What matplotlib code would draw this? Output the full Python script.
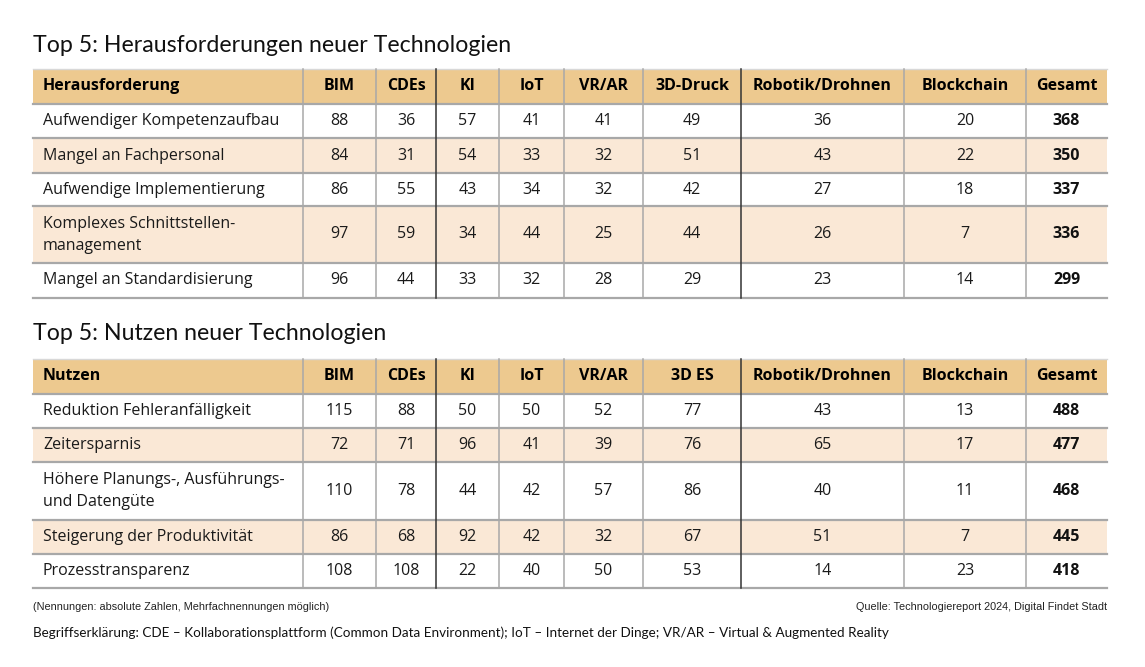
import matplotlib.pyplot as plt
from matplotlib.patches import Rectangle

# --- data ---------------------------------------------------------------
tech_cols_1 = ["BIM", "CDEs", "KI", "IoT", "VR/AR", "3D-Druck",
               "Robotik/Drohnen", "Blockchain", "Gesamt"]
tech_cols_2 = ["BIM", "CDEs", "KI", "IoT", "VR/AR", "3D ES",
               "Robotik/Drohnen", "Blockchain", "Gesamt"]

challenges = ["Aufwendiger Kompetenzaufbau", "Mangel an Fachpersonal",
              "Aufwendige Implementierung",
              "Komplexes Schnittstellen-\nmanagement",
              "Mangel an Standardisierung"]
challenge_values = [
    [88, 36, 57, 41, 41, 49, 36, 20, 368],
    [84, 31, 54, 33, 32, 51, 43, 22, 350],
    [86, 55, 43, 34, 32, 42, 27, 18, 337],
    [97, 59, 34, 44, 25, 44, 26, 7, 336],
    [96, 44, 33, 32, 28, 29, 23, 14, 299],
]

benefits = ["Reduktion Fehleranfälligkeit", "Zeitersparnis",
            "Höhere Planungs-, Ausführungs-\nund Datengüte",
            "Steigerung der Produktivität", "Prozesstransparenz"]
benefit_values = [
    [115, 88, 50, 50, 52, 77, 43, 13, 488],
    [72, 71, 96, 41, 39, 76, 65, 17, 477],
    [110, 78, 44, 42, 57, 86, 40, 11, 468],
    [86, 68, 92, 42, 32, 67, 51, 7, 445],
    [108, 108, 22, 40, 50, 53, 14, 23, 418],
]

# --- layout (pixel coordinates) -------------------------------------------
W, H = 1145, 667
col_edges = [33, 303, 376, 436, 499, 564, 643, 741, 904, 1026, 1107]
dark_lines = {3, 7}
HEADER = "#EDC98F"
ALT = "#FAE8D6"
GRID = "#A8A8A8"
BODY_FONT = "Open Sans"
TITLE_FONT = "Lato"

fig = plt.figure(figsize=(W / 100, H / 100), dpi=100)
ax = fig.add_axes([0, 0, 1, 1])
ax.set_xlim(0, W)
ax.set_ylim(H, 0)
ax.axis("off")


def draw_table(title, title_y, first_col, cols, rows, values, top, row_heights):
    ax.text(col_edges[0], title_y, title, fontsize=16.7, family=TITLE_FONT,
            va="center", ha="left", color="#111111")
    header_h = 35
    ax.add_patch(Rectangle((col_edges[0], top), col_edges[-1] - col_edges[0],
                           header_h, facecolor=HEADER, edgecolor="none"))
    ax.text(col_edges[0] + 10, top + header_h / 2, first_col, fontsize=11.5,
            fontweight="bold", family=BODY_FONT, va="center", ha="left")
    for j, c in enumerate(cols):
        cx = (col_edges[j + 1] + col_edges[j + 2]) / 2
        ax.text(cx, top + header_h / 2, c, fontsize=11.5, fontweight="bold",
                family=BODY_FONT, va="center", ha="center")

    y = top + header_h
    ax.plot([col_edges[0], col_edges[-1]], [top, top], color="#D8D8D8", lw=1)
    ax.plot([col_edges[0], col_edges[-1]], [y, y], color=GRID, lw=1.6)
    for i, (label, vals) in enumerate(zip(rows, values)):
        h = row_heights[i]
        if i % 2 == 1:
            ax.add_patch(Rectangle((col_edges[0], y), col_edges[-1] - col_edges[0],
                                   h, facecolor=ALT, edgecolor="none"))
        ax.text(col_edges[0] + 10, y + h / 2, label, fontsize=11.5,
                family=BODY_FONT, va="center", ha="left", color="#1a1a1a",
                linespacing=1.5)
        for j, v in enumerate(vals):
            cx = (col_edges[j + 1] + col_edges[j + 2]) / 2
            bold = j == len(vals) - 1
            ax.text(cx, y + h / 2, str(v), fontsize=11.5, family=BODY_FONT,
                    fontweight="bold" if bold else "normal",
                    va="center", ha="center", color="#111111" if bold else "#1a1a1a")
        y += h
        ax.plot([col_edges[0], col_edges[-1]], [y, y], color=GRID, lw=1.6)

    for k, x in enumerate(col_edges[1:-1], start=1):
        ax.plot([x, x], [top, y], color="#333333" if k in dark_lines else GRID,
                lw=1.1, zorder=3)


draw_table("Top 5: Herausforderungen neuer Technologien", 45, "Herausforderung",
           tech_cols_1, challenges, challenge_values, 69, [34, 35, 33, 57, 35])
draw_table("Top 5: Nutzen neuer Technologien", 333, "Nutzen",
           tech_cols_2, benefits, benefit_values, 359, [34, 34, 58, 34, 34])

note_font = ["Liberation Sans Narrow", "Liberation Sans", "DejaVu Sans"]
ax.text(33, 607, "(Nennungen: absolute Zahlen, Mehrfachnennungen möglich)",
        fontsize=7.8, family=note_font, va="center", ha="left", color="#222222")
ax.text(1107, 607, "Quelle: Technologiereport 2024, Digital Findet Stadt",
        fontsize=7.8, family=note_font, va="center", ha="right", color="#222222")
ax.text(33, 633, "Begriffserklärung: CDE – Kollaborationsplattform (Common Data "
        "Environment); IoT – Internet der Dinge; VR/AR – Virtual & Augmented Reality",
        fontsize=9.75, family=TITLE_FONT, va="center", ha="left", color="#111111")

fig.savefig("out.png", dpi=100)
